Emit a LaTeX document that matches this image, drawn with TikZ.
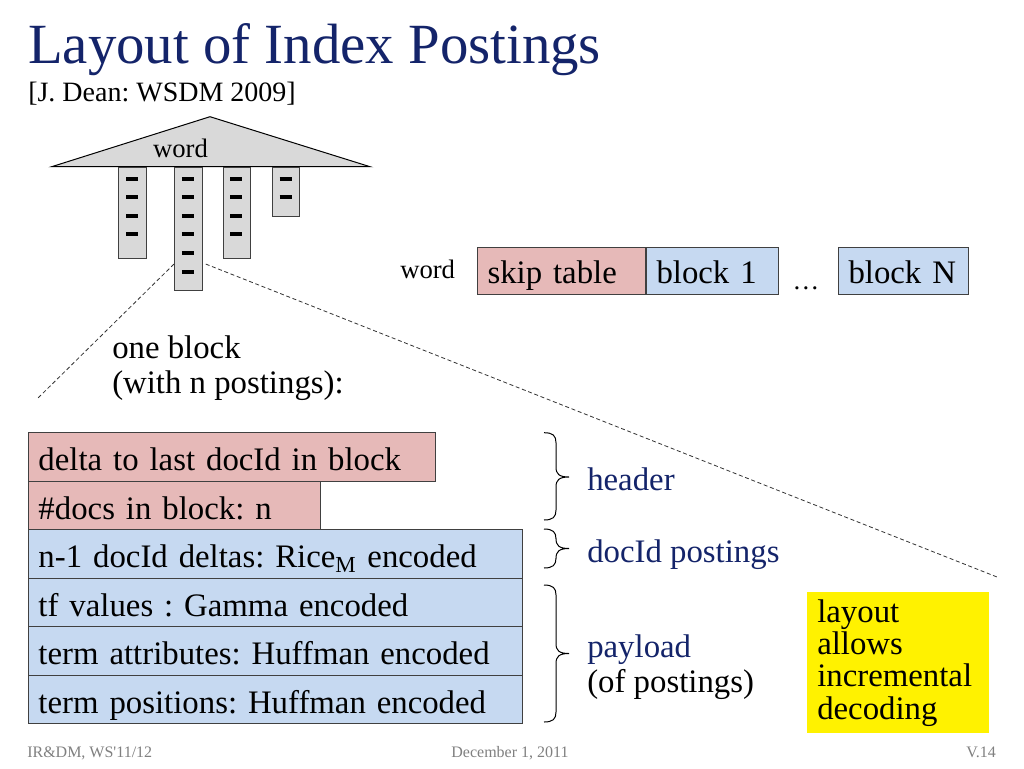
\documentclass[tikz,border=0pt]{standalone}
\usepackage{fontspec}
\setmainfont{Liberation Serif}
\usetikzlibrary{calc}
\definecolor{navy}{RGB}{20,36,106}
\definecolor{pinkfill}{RGB}{230,185,184}
\definecolor{bluefill}{RGB}{198,217,241}
\definecolor{grayfill}{RGB}{217,217,217}
\definecolor{footgray}{RGB}{128,128,128}
\definecolor{edgegray}{RGB}{64,64,64}
\newcommand{\fsz}[2]{\fontsize{#1}{#2}\selectfont}
\newcommand{\mybrace}[4]{%
  \draw[bracestyle] (#1,#2) .. controls (#1+9,#2) and (#1+12,#2+3) .. (#1+12,#2+10)
    -- (#1+12,#4-10) .. controls (#1+12,#4-3) and (#1+15,#4) .. (#1+25,#4)
    .. controls (#1+15,#4) and (#1+12,#4+3) .. (#1+12,#4+10)
    -- (#1+12,#3-10) .. controls (#1+12,#3-3) and (#1+9,#3) .. (#1,#3);}
\frenchspacing
\begin{document}
\begin{tikzpicture}[x=0.75pt,y=-0.75pt,
  body/.style={font=\fsz{24.6pt}{26.25pt}, inner sep=0pt},
  cell/.style={draw=edgegray, line width=0.75pt, inner xsep=7.5pt, inner ysep=0pt,
    align=left, font=\fsz{24.6pt}{26pt}},
  rowbox/.style={cell, anchor=north west, text height=28.5pt, text depth=7.875pt},
  topbox/.style={cell, anchor=north west, text height=27pt, text depth=8.25pt},
  pink/.style={fill=pinkfill},
  blue/.style={fill=bluefill},
  col/.style={draw=edgegray, fill=grayfill, line width=0.75pt, anchor=north west,
    inner sep=0pt, minimum width=20.8pt},
  dashbar/.style={line width=2.6pt, black},
  zoomline/.style={dashed, dash pattern=on 3pt off 2pt, line width=0.6pt, black!80},
  bracestyle/.style={line width=0.75pt, black},
  smallword/.style={font=\fsz{20pt}{22pt}, inner sep=0pt},
  foot/.style={font=\fsz{12pt}{14pt}, text=footgray, inner sep=0pt},
  label/.style={body, anchor=base west, text=navy}
]
\fill[white] (0,0) rectangle (1024,768);
\useasboundingbox (0,0) rectangle (1024,768);

% title
\node[anchor=base west, inner sep=0pt, font=\fsz{42.6pt}{48pt}, text=navy] (title) at (28,63) {Layout of Index Postings};
\node[anchor=base west, inner sep=0pt, font=\fsz{21pt}{24pt}] (subtitle) at (28,101) {[J. Dean: WSDM 2009]};

% tree
\draw[fill=grayfill, draw=black, line width=0.75pt] (51.7,166.7) coordinate (tl) -- (210,116.7) coordinate (apex) -- (370,166.7) coordinate (tr) -- cycle;
\node[smallword, anchor=base] (treeword) at (180.5,157) {word};
\node[col, minimum height=68.7pt] (col1) at (118.3,166.7) {};
\node[col, minimum height=92.5pt] (col2) at (174,166.7) {};
\node[col, minimum height=68.7pt] (col3) at (222.7,166.7) {};
\node[col, minimum height=37pt] (col4) at (271.7,166.7) {};
\foreach \y in {179,197,216,234} \draw[dashbar] (126.2,\y) -- ++(12,0);
\foreach \y in {179,197,216,234,253,272} \draw[dashbar] (181.9,\y) -- ++(12,0);
\foreach \y in {179,197,216,234} \draw[dashbar] (230.4,\y) -- ++(12,0);
\foreach \y in {179,197} \draw[dashbar] (279.5,\y) -- ++(12,0);

% list row
\node[smallword, anchor=base west] (listword) at (400,278) {word};
\node[topbox, pink, text width=111pt] (skip) at (477,247) {\mbox{skip table}};
\node[topbox, blue, text width=84pt, anchor=north west] (b1) at (skip.north east) {\mbox{block 1}};
\node[smallword, anchor=base] (dots) at (806,289) {\ldots};
\node[topbox, blue, text width=82.5pt] (bN) at (838,247) {\mbox{block N}};

% one block text
\node[body, anchor=base west, align=left] (oneblock) at (112,393) {one block\\(with n postings):};

% zoom lines
\coordinate (lend) at (38,398);
\coordinate (rend) at (997,577);
\draw[zoomline] ($(col2.south west)+(0,-27)$) -- (lend);
\draw[zoomline] ($(col2.south east)+(3,-27)$) -- (rend);

% block layout rows
\node[rowbox, pink, text width=290.25pt] (r1) at (28,432) {\mbox{delta to last docId in block}};
\node[rowbox, pink, text width=204pt] (r2) at (28,480.5) {\mbox{\#docs in block: n}};
\node[rowbox, blue, text width=355.5pt] (r3) at (28,529) {\mbox{n-1 docId deltas: Rice\textsubscript{M} encoded}};
\node[rowbox, blue, text width=355.5pt] (r4) at (28,577.5) {\mbox{tf values : Gamma encoded}};
\node[rowbox, blue, text width=355.5pt] (r5) at (28,626) {\mbox{term attributes: Huffman encoded}};
\node[rowbox, blue, text width=355.5pt] (r6) at (28,674.5) {\mbox{term positions: Huffman encoded}};

% braces
\mybrace{544}{432.7}{520}{477}
\mybrace{544}{529}{568}{548.5}
\mybrace{544}{585}{722}{653.5}

\node[label] (header) at (587,490) {header};
\node[label] (docid) at (587,562) {docId postings};
\node[body, anchor=base west, align=left] (payload) at (587,692) {\textcolor{navy}{payload}\\(of postings)};

% yellow box
\node[anchor=north west, fill=yellow, inner xsep=7.5pt, inner ysep=0pt, minimum height=105.75pt,
  text width=121.5pt, align=left, font=\fsz{24.6pt}{24.2pt}] (note) at (807,592)
  {layout\\allows\\incremental\\decoding};

% footer
\node[foot, anchor=base west] (f1) at (27,757) {IR\&DM, WS\textquotesingle 11/12};
\node[foot, anchor=base] (f2) at (510,757) {December 1, 2011};
\node[foot, anchor=base east] (f3) at (996,757) {V.14};
\end{tikzpicture}
\end{document}
